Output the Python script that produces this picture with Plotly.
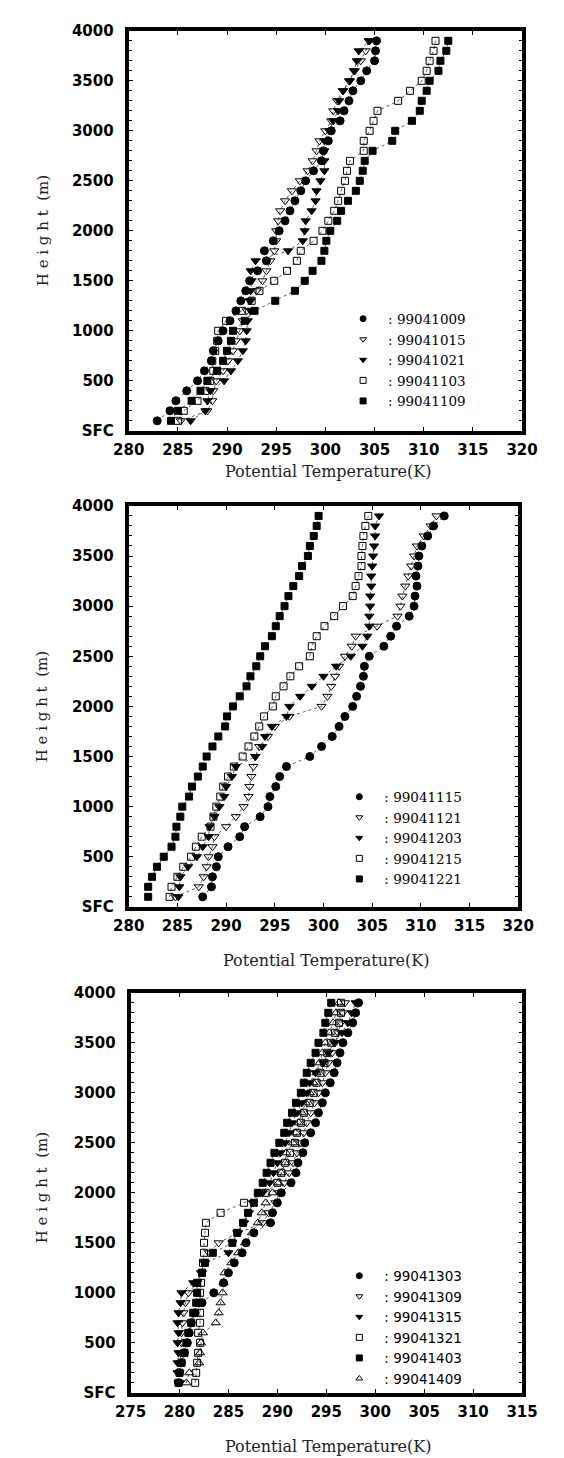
import plotly.graph_objects as go

# ---------------- data ----------------
HEIGHTS = [100, 200, 300, 400, 500, 600, 700, 800, 900, 1000,
           1100, 1200, 1300, 1400, 1500, 1600, 1700, 1800, 1900, 2000,
           2100, 2200, 2300, 2400, 2500, 2600, 2700, 2800, 2900, 3000,
           3100, 3200, 3300, 3400, 3500, 3600, 3700, 3800, 3900]

Y_TICKVALS = [0, 500, 1000, 1500, 2000, 2500, 3000, 3500, 4000]
Y_TICKTEXT = ["SFC", "500", "1000", "1500", "2000", "2500", "3000", "3500", "4000"]
X_TICKS_12 = [280, 285, 290, 295, 300, 305, 310, 315, 320]
X_TICKS_3 = [275, 280, 285, 290, 295, 300, 305, 310, 315]

# Panel 1
P1_NAMES = ["99041009", "99041015", "99041021", "99041103", "99041109"]
P1_99041009 = [282.9, 284.2, 284.8, 285.9, 287.0, 287.7, 288.4, 288.6, 289.1, 289.6,
               290.3, 290.9, 291.4, 291.9, 292.3, 293.1, 294.0, 293.8, 294.7, 295.3,
               295.9, 296.4, 296.9, 297.5, 298.0, 298.8, 299.6, 299.8, 300.3, 300.6,
               301.5, 301.9, 302.4, 302.8, 303.6, 304.2, 305.0, 305.1, 305.2]
P1_99041015 = [285.3, 288.0, 288.5, 288.6, 288.9, 289.6, 290.1, 290.6, 290.9, 291.3,
               291.6, 292.0, 292.4, 293.0, 293.6, 294.0, 294.4, 294.8, 295.0, 295.0,
               295.2, 295.4, 295.9, 296.6, 297.4, 298.2, 298.7, 299.1, 299.4, 300.0,
               300.6, 300.8, 301.2, 301.8, 302.4, 303.0, 303.6, 304.1, 304.4]
P1_99041021 = [286.3, 287.8, 288.0, 288.3, 289.7, 290.4, 291.1, 291.6, 291.9, 292.0,
               292.1, 292.4, 292.3, 292.4, 292.5, 292.4, 292.9, 296.2, 297.7, 297.9,
               298.0, 298.6, 299.0, 299.1, 299.5, 299.9, 299.9, 299.9, 299.9, 300.4,
               300.8, 301.3, 301.4, 301.8, 302.5, 302.9, 303.2, 303.4, 304.5]
P1_99041103 = [285.0, 285.6, 287.0, 287.8, 288.3, 288.6, 288.5, 288.8, 289.0, 289.1,
               289.9, 291.5, 292.5, 293.3, 294.8, 296.1, 297.1, 297.5, 298.8, 299.7,
               300.3, 300.9, 301.3, 301.6, 302.0, 302.2, 302.5, 303.9, 303.9, 304.5,
               304.9, 305.3, 307.4, 308.6, 309.8, 310.3, 310.6, 311.0, 311.2]
P1_99041109 = [284.3, 285.0, 286.4, 287.3, 288.0, 289.0, 289.6, 290.0, 290.4, 290.6,
               291.8, 292.8, 294.9, 296.9, 297.9, 298.7, 299.6, 299.9, 300.1, 300.5,
               301.2, 301.6, 302.3, 303.1, 303.5, 303.8, 304.0, 304.8, 306.8, 307.1,
               308.8, 309.6, 309.8, 310.3, 310.6, 311.5, 311.7, 312.3, 312.5]

# Panel 2
P2_NAMES = ["99041115", "99041121", "99041203", "99041215", "99041221"]
P2_99041115 = [287.6, 288.5, 288.6, 289.0, 289.2, 290.2, 291.4, 291.9, 293.5, 294.3,
               294.5, 295.1, 295.5, 296.2, 298.6, 299.8, 300.9, 301.6, 302.2, 303.0,
               303.4, 303.8, 304.1, 304.2, 304.7, 306.2, 306.9, 307.5, 308.8, 309.3,
               309.4, 309.6, 309.5, 309.7, 309.8, 310.1, 310.7, 311.3, 312.4]
P2_99041121 = [284.8, 287.2, 287.7, 288.0, 288.2, 288.6, 288.8, 290.0, 291.0, 291.8,
               292.3, 292.4, 292.6, 292.8, 293.0, 293.4, 294.3, 295.0, 296.5, 299.8,
               300.4, 300.8, 301.2, 301.6, 302.2, 302.9, 303.3, 305.5, 307.6, 307.9,
               308.1, 308.4, 308.7, 309.0, 309.3, 309.6, 310.3, 311.0, 311.6]
P2_99041203 = [285.1, 285.2, 285.3, 286.1, 287.0, 287.6, 288.2, 288.3, 288.8, 289.3,
               289.8, 290.0, 290.6, 291.0, 293.0, 293.7, 294.0, 294.7, 296.2, 296.5,
               297.6, 298.8, 300.0, 301.3, 302.8, 304.0, 304.5, 304.7, 304.7, 304.8,
               304.8, 304.9, 304.9, 305.0, 305.1, 305.2, 305.3, 305.3, 305.7]
P2_99041215 = [284.2, 284.4, 285.0, 285.6, 286.4, 286.9, 287.5, 288.4, 288.7, 289.0,
               289.4, 289.7, 290.2, 290.8, 291.7, 292.3, 292.9, 293.4, 293.9, 294.8,
               295.1, 295.9, 296.6, 297.5, 298.6, 298.8, 299.3, 300.1, 301.1, 302.0,
               303.0, 303.3, 303.6, 303.9, 303.9, 304.0, 304.1, 304.3, 304.6]
P2_99041221 = [282.0, 282.0, 282.4, 282.9, 283.6, 284.4, 284.8, 284.9, 285.3, 285.5,
               286.2, 286.5, 287.1, 287.6, 288.0, 288.6, 289.2, 289.9, 290.1, 290.7,
               291.4, 292.1, 292.5, 293.1, 293.5, 294.0, 294.7, 295.1, 295.5, 296.0,
               296.4, 296.9, 297.5, 297.8, 298.4, 298.6, 299.0, 299.3, 299.5]

# Panel 3
P3_NAMES = ["99041303", "99041309", "99041315", "99041321", "99041403", "99041409"]
P3_99041303 = [279.9, 280.0, 280.2, 280.5, 280.8, 281.0, 281.2, 281.6, 282.3, 283.5,
               284.5, 285.0, 285.6, 286.4, 286.8, 287.6, 289.3, 289.5, 290.0, 290.4,
               291.4, 291.9, 292.1, 292.6, 292.8, 293.4, 293.9, 294.2, 294.6, 294.9,
               295.4, 295.8, 296.1, 296.4, 296.7, 297.2, 297.7, 298.0, 298.3]
P3_99041309 = [280.0, 280.0, 280.1, 280.1, 280.2, 280.2, 280.3, 280.4, 280.6, 280.9,
               281.8, 282.2, 282.5, 283.0, 284.0, 286.0, 288.5, 289.1, 289.8, 290.2,
               290.7, 291.2, 291.6, 292.0, 292.4, 292.7, 293.0, 293.4, 293.8, 294.2,
               294.6, 294.9, 295.2, 295.6, 295.9, 296.2, 296.5, 296.7, 296.9]
P3_99041315 = [279.9, 279.8, 279.8, 279.9, 279.8, 279.9, 279.8, 279.9, 280.1, 280.2,
               281.4, 282.3, 282.6, 285.0, 285.4, 285.9, 286.6, 287.1, 287.5, 288.5,
               289.2, 289.6, 290.0, 290.3, 290.8, 291.2, 291.5, 292.0, 292.5, 293.0,
               293.3, 293.9, 294.7, 295.2, 295.8, 296.6, 297.2, 297.6, 298.0]
P3_99041321 = [281.6, 281.7, 281.8, 281.9, 282.1, 281.9, 282.1, 282.1, 282.1, 282.1,
               282.2, 282.3, 282.4, 282.5, 282.5, 282.6, 282.7, 284.2, 286.6, 288.8,
               290.0, 290.4, 290.8, 291.3, 291.8, 292.0, 292.4, 292.7, 293.3, 293.7,
               294.0, 294.4, 294.8, 295.1, 295.5, 295.9, 296.3, 296.5, 296.5]
P3_99041403 = [279.9, 280.0, 280.2, 280.5, 280.7, 280.9, 281.2, 281.4, 281.7, 281.8,
               281.8, 282.3, 282.6, 283.4, 285.4, 285.9, 286.5, 287.0, 287.6, 288.0,
               288.5, 288.9, 289.3, 289.7, 290.2, 290.7, 291.0, 291.5, 291.9, 292.4,
               292.7, 293.0, 293.4, 293.9, 294.2, 294.7, 294.9, 295.2, 295.5]
P3_99041409 = [280.7, 281.0, 282.0, 282.1, 282.2, 282.4, 283.7, 284.0, 284.2, 284.4,
               284.5, 284.6, 285.3, 286.0, 286.7, 287.4, 288.0, 288.4, 288.8, 289.5,
               290.1, 290.4, 290.8, 290.9, 291.6, 291.9, 292.2, 292.5, 292.9, 293.3,
               293.7, 294.0, 294.3, 294.6, 294.9, 295.3, 295.7, 296.0, 296.3]

# ---------------- styling ----------------
W, H = 564, 1458
SYMBOLS = ["circle", "triangle-down-open", "triangle-down", "square-open", "square",
           "triangle-up-open"]
SIZES = [8, 8, 8, 7, 7, 8]
TICKFONT = dict(family="DejaVu Sans", size=15, color="black", weight="bold")

panels = [
    dict(names=P1_NAMES, series=[P1_99041009, P1_99041015, P1_99041021, P1_99041103, P1_99041109],
         xdom=(111, 528), ydom=(14, 419), xr=[280, 320], xt=X_TICKS_12,
         legend=dict(x=333, y=290, font="DejaVu Serif"), xtitle_y=460, ytitle_y=216),
    dict(names=P2_NAMES, series=[P2_99041115, P2_99041121, P2_99041203, P2_99041215, P2_99041221],
         xdom=(111, 524), ydom=(495, 901), xr=[280, 320], xt=X_TICKS_12,
         legend=dict(x=329, y=774, font="DejaVu Serif"), xtitle_y=955, ytitle_y=698),
    dict(names=P3_NAMES, series=[P3_99041303, P3_99041309, P3_99041315, P3_99041321, P3_99041403, P3_99041409],
         xdom=(113, 528), ydom=(988, 1393), xr=[275, 315], xt=X_TICKS_3,
         legend=dict(x=329, y=1259, font="DejaVu Sans"), xtitle_y=1447, ytitle_y=1185),
]

fig = go.Figure()
layout = dict(width=W, height=H, margin=dict(l=0, r=0, t=0, b=0),
              paper_bgcolor="white", plot_bgcolor="white", showlegend=True,
              annotations=[])

for i, p in enumerate(panels, start=1):
    sx = "" if i == 1 else str(i)
    xa, ya = "x" + sx, "y" + sx
    lg = "legend" + sx
    for j, (name, vals) in enumerate(zip(p["names"], p["series"])):
        fig.add_trace(go.Scatter(
            x=vals, y=HEIGHTS, mode="lines+markers", xaxis=xa, yaxis=ya,
            showlegend=False,
            line=dict(color="#333333", width=0.8, dash="dot"),
            marker=dict(symbol=SYMBOLS[j], size=SIZES[j], color="black",
                        line=dict(color="black", width=1))))
        fig.add_trace(go.Scatter(
            x=[None], y=[None], mode="markers", xaxis=xa, yaxis=ya,
            name=": " + name, legend=lg, showlegend=True,
            marker=dict(symbol=SYMBOLS[j], size=6, color="black",
                        line=dict(color="black", width=1))))

    x0, x1 = p["xdom"]
    y0, y1 = p["ydom"]
    common = dict(showline=True, linewidth=4, linecolor="black", mirror="ticks",
                  ticks="inside", ticklen=4, tickwidth=1, tickcolor="black",
                  showgrid=False, zeroline=False, tickfont=TICKFONT)
    layout["xaxis" + sx] = dict(common, domain=[x0 / W, x1 / W], range=p["xr"],
                                tickvals=p["xt"], anchor=ya, ticklabelstandoff=2)
    layout["yaxis" + sx] = dict(common, domain=[(H - y1) / H, (H - y0) / H],
                                range=[0, 4000], tickvals=Y_TICKVALS, ticktext=Y_TICKTEXT,
                                anchor=xa, ticklabelstandoff=8,
                                minor=dict(dtick=100, ticks="inside", ticklen=3,
                                           tickcolor="black", showgrid=False))
    L = p["legend"]
    layout[lg] = dict(x=L["x"] / W, y=(H - L["y"]) / H, xanchor="left", yanchor="top",
                      bgcolor="rgba(0,0,0,0)", borderwidth=0, tracegroupgap=0,
                      itemwidth=40,
                      font=dict(family=L["font"], size=13.5, color="black"))
    layout["annotations"].append(dict(
        text="Potential Temperature(K)", x=(x0 + x1) / 2 / W + 0.005, y=(H - p["xtitle_y"]) / H,
        xref="paper", yref="paper", showarrow=False, xanchor="center", yanchor="middle",
        font=dict(family="DejaVu Serif", size=16, color="#222222")))
    layout["annotations"].append(dict(
        text="H e i g h t  (m)", x=20 / W, y=(H - p["ytitle_y"]) / H, textangle=-90,
        xref="paper", yref="paper", showarrow=False, xanchor="center", yanchor="middle",
        font=dict(family="DejaVu Serif", size=15, color="#222222")))

fig.update_layout(**layout)
fig.write_html("out.html")
